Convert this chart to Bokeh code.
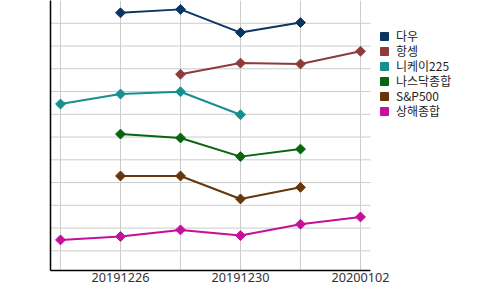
import math
from bokeh.plotting import figure
from bokeh.models import (ColumnDataSource, Range1d, FixedTicker, Legend, LegendItem)
from bokeh.embed import file_html
from bokeh.resources import INLINE

dates = ["20191224", "20191226", "20191227", "20191230", "20191231", "20200102"]
tick_labels = {1: "20191226", 3: "20191230", 5: "20200102"}

names = ["다우", "항셍", "니케이225", "나스닥종합", "S&P500", "상해종합"]
colors = ["#0b3563", "#8e3b3b", "#16908f", "#0a650f", "#66370a", "#c4109a"]

dow = [None, 11.46, 11.61, 10.59, 11.03, None]
hangseng = [None, None, 8.76, 9.25, 9.21, 9.77]
nikkei = [7.45, 7.89, 7.99, 6.98, None, None]
nasdaq = [None, 6.13, 5.96, 5.14, 5.47, None]
sp500 = [None, 4.29, 4.29, 3.28, 3.79, None]
shanghai = [1.48, 1.63, 1.92, 1.67, 2.17, 2.49]
series = [dow, hangseng, nikkei, nasdaq, sp500, shanghai]
grid_levels = list(range(1, 12))

X0, X1 = -1 / 6, 5 + 1 / 6          # plotted extent of the categories
PX = 60.0                            # pixels per category step
W, H, LEFT, BOTTOM = 500, 290, 50, 20
x_end = X0 + (W - LEFT) / PX
NAN = float("nan")

p = figure(width=W, height=H, output_backend="svg", toolbar_location=None,
           x_range=Range1d(X0, x_end), y_range=Range1d(0.136, 12.0),
           min_border_left=LEFT, min_border_right=0, min_border_top=0,
           min_border_bottom=BOTTOM)
p.outline_line_color = None
p.background_fill_color = "white"

# horizontal grid lines only across the category extent
p.segment(x0=[X0] * len(grid_levels), x1=[X1] * len(grid_levels),
          y0=grid_levels, y1=grid_levels, line_color="#cccccc", line_width=1)

for name, col, vals in zip(names, colors, series):
    xs = [i for i, v in enumerate(vals) if v is not None]
    ys = [v for v in vals if v is not None]
    src = ColumnDataSource(dict(x=xs, y=ys))
    p.line("x", "y", source=src, line_color=col, line_width=2)
    p.scatter("x", "y", source=src, marker="square", size=7, angle=math.pi / 4,
              fill_color=col, line_color=col, line_width=1)

frame_h = H - BOTTOM
for i, (name, col) in enumerate(zip(names, colors)):
    # swatch-only renderer for the legend (no visible data)
    dummy = p.rect(x=[NAN], y=[NAN], width=[1], height=[1],
                   fill_color=col, line_color=col)
    center = 35.5 + 15 * i
    leg = Legend(items=[LegendItem(label=name, renderers=[dummy])],
                 location=(329, frame_h - center - 8.7), padding=0, margin=0,
                 glyph_width=10, glyph_height=10, label_height=12, spacing=0,
                 label_standoff=7, border_line_color=None,
                 background_fill_alpha=0,
                 label_text_font="Noto Sans CJK KR", label_text_font_size="12px",
                 label_text_color="#222222")
    p.add_layout(leg, "center")

p.xaxis.ticker = FixedTicker(ticks=[1, 3, 5])
p.xaxis.major_label_overrides = tick_labels
p.xaxis.bounds = (X0, X1)
p.xaxis.major_tick_line_color = None
p.xaxis.minor_tick_line_color = None
p.xaxis.axis_line_color = "black"
p.xaxis.axis_line_width = 1.5
p.xaxis.major_label_text_font = "Noto Sans"
p.xaxis.major_label_text_font_size = "12.7px"
p.xaxis.major_label_text_color = "#333333"
p.xaxis.major_label_standoff = -4

p.yaxis.ticker = FixedTicker(ticks=[])
p.yaxis.major_tick_line_color = None
p.yaxis.minor_tick_line_color = None
p.yaxis.major_label_text_font_size = "0px"
p.yaxis.axis_line_color = "black"
p.yaxis.axis_line_width = 1.5

p.xgrid.ticker = FixedTicker(ticks=[0, 1, 2, 3, 4, 5])
p.xgrid.grid_line_color = "#cccccc"
p.ygrid.grid_line_color = None

open("out.html", "w").write(file_html(p, INLINE))
